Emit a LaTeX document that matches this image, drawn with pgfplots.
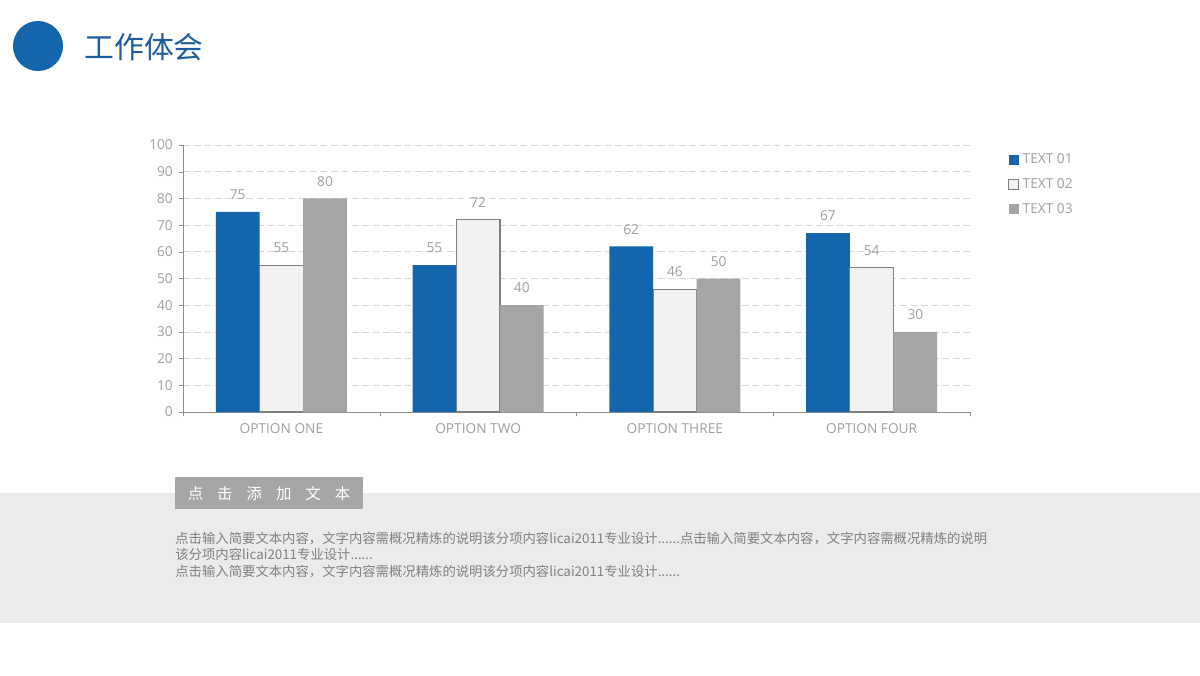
\documentclass[border=0pt]{standalone}
\usepackage{pgfplots}
\pgfplotsset{compat=1.18}
\usepackage{fontspec}
\setmainfont{Open Sans}
\newfontfamily\cjk{Noto Sans CJK SC}

\definecolor{barblue}{HTML}{1565AC}
\definecolor{barlight}{HTML}{F2F2F2}
\definecolor{barborder}{HTML}{7F7F7F}
\definecolor{bargray}{HTML}{A5A5A5}
\definecolor{gridgray}{HTML}{D9D9D9}
\definecolor{axisgray}{HTML}{8C8C8C}
\definecolor{labelgray}{HTML}{A0A0A0}
\definecolor{titleblue}{HTML}{1F5E9E}
\definecolor{band}{HTML}{EBEBEB}
\definecolor{boxgray}{HTML}{A6A6A6}
\definecolor{bodygray}{HTML}{808080}

\begin{document}
\begin{tikzpicture}
% page: 1200 x 675 px, 1 px = 0.02 cm, origin top left
\path[use as bounding box, fill=white] (0,0) rectangle (24cm,-13.5cm);

\begin{scope}[x=0.02cm, y=-0.02cm]
  \fill[barblue] (38,46) circle (25);
  \node[anchor=west, text=titleblue, inner sep=0pt] at (84,47)
    {\cjk\fontsize{17}{20}\selectfont 工作体会};
  \fill[band] (0,493) rectangle (1200,623);
  \fill[boxgray] (175,477) rectangle (363,509);
  \node[text=white, inner sep=0pt] at (269,493)
    {\cjk\fontsize{8.8}{10}\selectfont 点\hspace{0.9em}击\hspace{0.9em}添\hspace{0.9em}加\hspace{0.9em}文\hspace{0.9em}本};
  \begin{scope}[every node/.style={anchor=west, inner sep=0pt, text=bodygray,
      font=\cjk\fontsize{7.6}{9}\selectfont}]
    \node at (175,538) {点击输入简要文本内容，文字内容需概况精炼的说明该分项内容licai2011专业设计......点击输入简要文本内容，文字内容需概况精炼的说明};
    \node at (175,554) {该分项内容licai2011专业设计......};
    \node at (175,571) {点击输入简要文本内容，文字内容需概况精炼的说明该分项内容licai2011专业设计......};
  \end{scope}
\end{scope}

\begin{axis}[
    at={(3.66cm,-8.24cm)}, anchor=south west,
    scale only axis, width=15.74cm, height=5.34cm,
    /pgf/number format/assume math mode=true,
    ybar=0pt, bar width=0.874cm,
    xmin=-0.5, xmax=3.5, ymin=0, ymax=100,
    ytick={0,10,...,100},
    xtick={-0.5,0.5,1.5,2.5,3.5}, xticklabels={},
    extra x ticks={0,1,2,3},
    extra x tick labels={OPTION ONE,OPTION TWO,OPTION THREE,OPTION FOUR},
    extra x tick style={major tick length=0pt},
    axis x line*=bottom, axis y line*=left,
    axis line style={draw=axisgray, -},
    tick style={draw=axisgray},
    tick align=outside, major tick length=0.08cm,
    ymajorgrids, grid style={draw=gridgray, dash pattern=on 4pt off 2pt},
    tick label style={text=labelgray, font=\fontsize{7.8}{9}\selectfont},
    x tick label style={yshift=-0.1cm},
    nodes near coords,
    every node near coord/.append style={text=labelgray,
      font=\fontsize{7.8}{9}\selectfont, yshift=0.12cm},
    legend style={at={(1.048,0.983)}, anchor=north west, draw=none, fill=none,
      inner sep=0pt, row sep=3pt, text=labelgray,
      font=\fontsize{7.8}{9}\selectfont, cells={anchor=west}},
  ]
  \addplot[fill=barblue, draw=none,
    legend image code/.code={\fill[barblue] (0cm,-0.1cm) rectangle (0.2cm,0.1cm);}]
    coordinates {(0,75) (1,55) (2,62) (3,67)};
  \addplot[fill=barlight, draw=barborder, line width=0.6pt,
    legend image code/.code={\draw[fill=barlight, draw=barborder, line width=0.6pt] (0cm,-0.1cm) rectangle (0.2cm,0.1cm);}]
    coordinates {(0,55) (1,72) (2,46) (3,54)};
  \addplot[fill=bargray, draw=none,
    legend image code/.code={\fill[bargray] (0cm,-0.1cm) rectangle (0.2cm,0.1cm);}]
    coordinates {(0,80) (1,40) (2,50) (3,30)};
  \legend{TEXT 01, TEXT 02, TEXT 03}
\end{axis}
\end{tikzpicture}
\end{document}
